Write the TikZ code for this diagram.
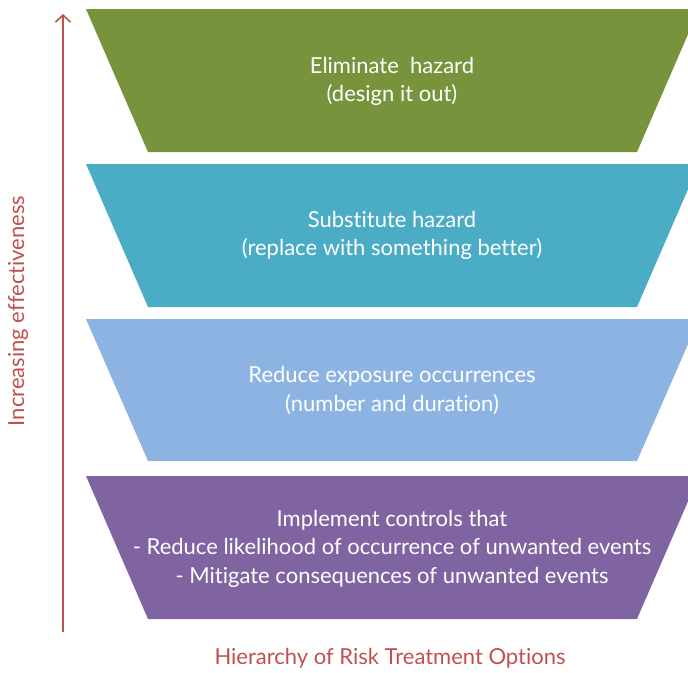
\documentclass[tikz,border=0pt]{standalone}
\usepackage{fontspec}
\setmainfont{Lato}[Ligatures={NoCommon}]
\usetikzlibrary{arrows.meta}

\definecolor{hzgreen}{HTML}{77933C}
\definecolor{hzteal}{HTML}{4BACC6}
\definecolor{hzblue}{HTML}{8DB3E2}
\definecolor{hzpurple}{HTML}{8064A2}
\definecolor{hzred}{HTML}{C0504D}

\tikzset{
  band/.style={fill=#1, draw=none},
  bandtext/.style={text=white, align=center, font=\fontsize{22}{28.5}\selectfont},
  redtext/.style={text=hzred, font=\fontsize{22}{26}\selectfont}
}

\begin{document}
\begin{tikzpicture}[x=1pt, y=-1pt, >={Straight Barb[length=7pt,width=15pt]}]
    \useasboundingbox (0,0) rectangle (688,672);
    \fill[band=hzgreen]  (86,9)   -- (699,9)   -- (637,152) -- (148,152) -- cycle; % eliminate
    \fill[band=hzteal]   (86,164) -- (699,164) -- (637,307) -- (148,307) -- cycle; % substitute
    \fill[band=hzblue]   (86,319) -- (699,319) -- (637,461) -- (148,461) -- cycle; % reduce
    \fill[band=hzpurple] (86,476) -- (699,476) -- (637,619) -- (148,619) -- cycle; % controls
    \node[bandtext] (elim) at (392,81.5) {Eliminate\ \ hazard\\(design it out)};
    \node[bandtext] (subst) at (392,235.5) {Substitute hazard\\(replace with something better)};
    \node[bandtext] (reduce) at (392,390.5) {Reduce exposure occurrences\\(number and duration)};
    \node[bandtext] (ctrl) at (392,548.5) {Implement controls that\\- Reduce likelihood of occurrence of unwanted events\\- Mitigate consequences of unwanted events};
    \coordinate (arrlow) at (63,632);
    \coordinate (arrtop) at (63,14);
    \draw[line width=1.6pt, hzred][->] (arrlow) -- (arrtop); % effectiveness axis
    \node[redtext, rotate=90] (axis) at (18,311) {Increasing effectiveness};
    \node[redtext] (title) at (390,658) {Hierarchy of Risk Treatment Options};
  \end{tikzpicture}
\end{document}
